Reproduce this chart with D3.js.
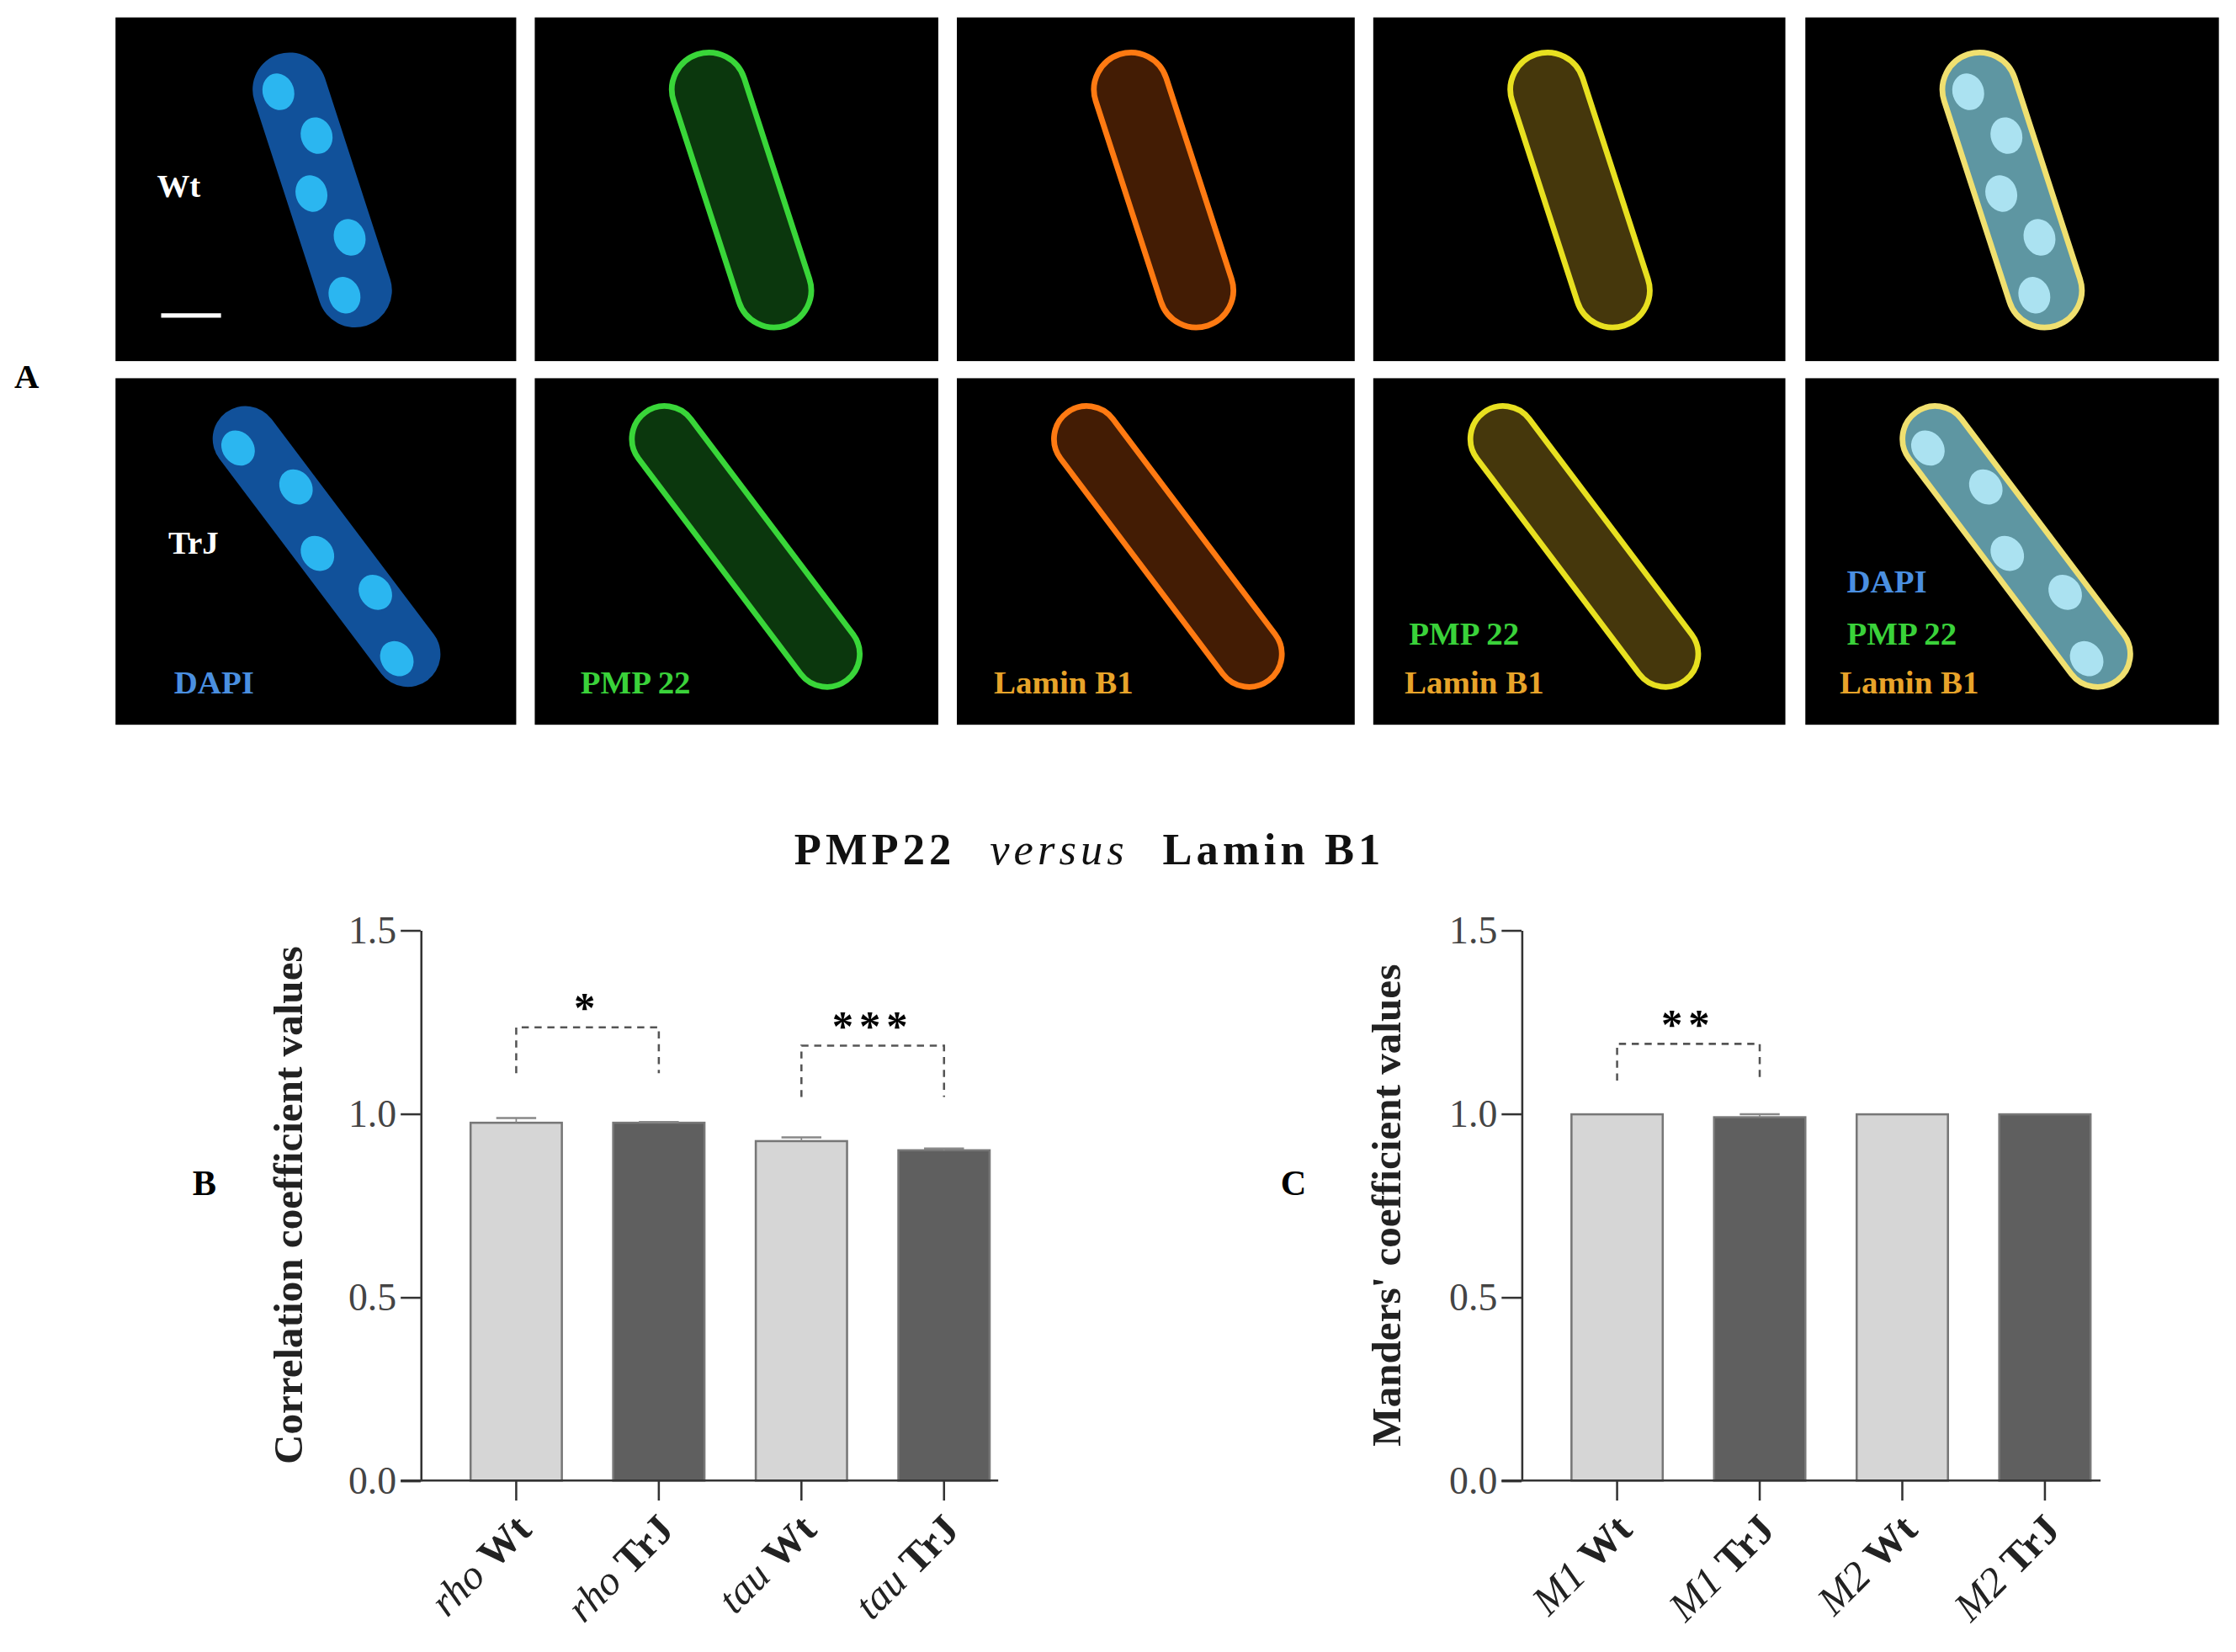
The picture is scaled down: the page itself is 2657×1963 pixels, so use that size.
<!DOCTYPE html>
<html><head><meta charset="utf-8">
<script src="https://cdn.jsdelivr.net/npm/d3@7"></script>
<style>body{margin:0;background:#fff} text{font-family:"Liberation Serif",serif}</style>
</head><body><svg width="2657" height="1963" viewBox="0 0 1568 1158"></svg>
<script>
// chart B
var corrCats = [['rho','Wt'],['rho','TrJ'],['tau','Wt'],['tau','TrJ']];
var corrVals = [0.975, 0.975, 0.925, 0.90];
var corrErr  = [0.013, 0.002, 0.010, 0.005];
// chart C
var mandCats = [['M1','Wt'],['M1','TrJ'],['M2','Wt'],['M2','TrJ']];
var mandVals = [0.998, 0.99, 0.998, 0.998];
var mandErr  = [0.0, 0.008, 0.0, 0.0];
var yTicks = [0, 0.5, 1.0, 1.5];
var fills = ['#d6d6d6','#5f5f5f','#d6d6d6','#5f5f5f'];

var svg = d3.select('svg');

// ---- panel A (micrographs drawn as stylised cells)
var colX = [81, 375, 671, 963, 1266], colW = [281, 283, 279, 289, 290];
var rowY = [12, 265], rowH = [241, 243];
var cellCol = [
  {stroke:'#1e88e8', fill:'#1565c0', spots:'#30c8ff'},
  {stroke:'#39d639', fill:'#0f4a12'},
  {stroke:'#ff7a12', fill:'#5a2505'},
  {stroke:'#e8e020', fill:'#5c4a10'},
  {stroke:'#f0e070', fill:'#7ec8d8'}
];
// cell geometry per row: centre offset in panel, length, width, angle
var cellGeom = [{cx:145, cy:121, len:200, w:52, a:72}, {cx:148, cy:118, len:235, w:46, a:53}];
colX.forEach(function(x0, c) {
  rowY.forEach(function(y0, r) {
    svg.append('rect').attr('x', x0).attr('y', y0).attr('width', colW[c]).attr('height', rowH[r]).attr('fill', '#000');
    var g = cellGeom[r], col = cellCol[c];
    var cg = svg.append('g').attr('transform', 'translate(' + (x0 + g.cx) + ',' + (y0 + g.cy) + ') rotate(' + g.a + ')');
    cg.append('rect').attr('x', -g.len/2).attr('y', -g.w/2).attr('width', g.len).attr('height', g.w)
      .attr('rx', g.w/2).attr('fill', col.fill).attr('fill-opacity', c === 0 ? 0.8 : 0.75)
      .attr('stroke', col.stroke).attr('stroke-width', c === 0 ? 0 : 4);
    if (c === 0 || c === 4) {
      d3.range(5).forEach(function(i) {
        cg.append('ellipse').attr('cx', -g.len/2 + 25 + i * (g.len - 50)/4).attr('cy', (i % 2 ? -8 : 8))
          .attr('rx', 13).attr('ry', 11).attr('fill', c === 0 ? col.spots : '#b8f0ff').attr('opacity', 0.85);
      });
    }
  });
});
svg.append('line').attr('x1', 113).attr('x2', 155).attr('y1', 221).attr('y2', 221).attr('stroke', '#fff').attr('stroke-width', 3);
var imgText = [
  ['Wt', 110, 138, '#fff'], ['TrJ', 118, 388, '#fff'],
  ['DAPI', 122, 486, '#4a8fe0'], ['PMP 22', 407, 486, '#3ad23a'], ['Lamin B1', 697, 486, '#e8a42a'],
  ['PMP 22', 988, 452, '#3ad23a'], ['Lamin B1', 985, 486, '#e8a42a'],
  ['DAPI', 1295, 415, '#4a8fe0'], ['PMP 22', 1295, 452, '#3ad23a'], ['Lamin B1', 1290, 486, '#e8a42a']
];
imgText.forEach(function(t) {
  svg.append('text').attr('x', t[1]).attr('y', t[2]).attr('fill', t[3]).attr('font-size', 23).attr('font-weight', 'bold').text(t[0]);
});
svg.append('text').attr('x', 10).attr('y', 272).attr('font-size', 24).attr('font-weight', 'bold').text('A');

// ---- title
var title = svg.append('text').attr('x', 764).attr('y', 606).attr('text-anchor', 'middle').attr('font-size', 31)
  .attr('letter-spacing', 3).attr('fill', '#111');
title.append('tspan').attr('font-weight', 'bold').text('PMP22');
title.append('tspan').attr('font-style', 'italic').attr('dx', 24).text('versus');
title.append('tspan').attr('font-weight', 'bold').attr('dx', 24).text('Lamin B1');

var y = d3.scaleLinear().domain([0, 1.5]).range([1038, 652]);

function barChart(opt) {
  var x = d3.scaleBand().domain(d3.range(4)).range([opt.x0 + 17, opt.x0 + 417]).paddingInner(0.36).paddingOuter(0.18);
  var g = svg.append('g');
  g.selectAll('rect.bar').data(opt.vals).enter().append('rect')
    .attr('x', function(d, i) { return x(i); }).attr('width', x.bandwidth())
    .attr('y', function(d) { return y(d); }).attr('height', function(d) { return y(0) - y(d); })
    .attr('fill', function(d, i) { return fills[i]; }).attr('stroke', '#777').attr('stroke-width', 1.5);
  opt.vals.forEach(function(v, i) {
    if (!opt.err[i]) return;
    var cx = x(i) + x.bandwidth()/2, yt = y(v + opt.err[i]);
    g.append('line').attr('x1', cx).attr('x2', cx).attr('y1', y(v)).attr('y2', yt).attr('stroke', '#888');
    g.append('line').attr('x1', cx - 14).attr('x2', cx + 14).attr('y1', yt).attr('y2', yt).attr('stroke', '#888').attr('stroke-width', 1.5);
  });
  var ax = g.append('g').attr('transform', 'translate(' + opt.x0 + ',0)')
    .call(d3.axisLeft(y).tickValues(yTicks).tickFormat(d3.format('.1f')).tickSize(14).tickSizeOuter(0));
  ax.select('.domain').attr('stroke', '#333').attr('stroke-width', 1.5);
  ax.selectAll('line').attr('stroke', '#333').attr('stroke-width', 1.5);
  ax.selectAll('text').attr('font-size', 27).attr('fill', '#444').attr('font-family', 'Liberation Serif');
  g.append('line').attr('x1', opt.x0 - 14).attr('x2', opt.x1).attr('y1', y(0)).attr('y2', y(0)).attr('stroke', '#333').attr('stroke-width', 1.5);
  opt.cats.forEach(function(c, i) {
    var cx = x(i) + x.bandwidth()/2;
    g.append('line').attr('x1', cx).attr('x2', cx).attr('y1', y(0)).attr('y2', y(0) + 14).attr('stroke', '#333').attr('stroke-width', 1.5);
    var t = g.append('text').attr('transform', 'translate(' + (cx + 12) + ',' + (y(0) + 36) + ') rotate(-45)')
      .attr('text-anchor', 'end').attr('font-size', 29).attr('fill', '#222');
    t.append('tspan').attr('font-style', 'italic').text(c[0] + ' ');
    t.append('tspan').attr('font-weight', 'bold').text(c[1]);
  });
  g.append('text').attr('transform', 'translate(' + opt.ylx + ',' + y(0.75) + ') rotate(-90)')
    .attr('text-anchor', 'middle').attr('font-size', 29).attr('font-weight', 'bold').attr('fill', '#222').text(opt.ylabel);
  g.append('text').attr('x', opt.lx).attr('y', 838).attr('font-size', 25).attr('font-weight', 'bold').text(opt.letter);
  opt.sig.forEach(function(s) {
    var a = x(s.a) + x.bandwidth()/2, b = x(s.b) + x.bandwidth()/2;
    g.append('path').attr('d', 'M' + a + ',' + y(s.ya) + 'V' + y(s.top) + 'H' + b + 'V' + y(s.yb))
      .attr('fill', 'none').attr('stroke', '#555').attr('stroke-width', 1.5).attr('stroke-dasharray', '5,4');
    g.append('text').attr('x', (a + b)/2).attr('y', y(s.top) - 4).attr('text-anchor', 'middle')
      .attr('font-size', 30).attr('font-weight', 'bold').attr('letter-spacing', 4).text(s.label);
  });
}

barChart({x0: 295, x1: 700, vals: corrVals, err: corrErr, cats: corrCats, ylx: 212, lx: 135, letter: 'B',
  ylabel: 'Correlation coefficient values',
  sig: [{a:0, b:1, top:1.235, ya:1.11, yb:1.11, label:'*'}, {a:2, b:3, top:1.185, ya:1.045, yb:1.045, label:'***'}]});
barChart({x0: 1067, x1: 1473, vals: mandVals, err: mandErr, cats: mandCats, ylx: 982, lx: 898, letter: 'C',
  ylabel: "Manders' coefficient values",
  sig: [{a:0, b:1, top:1.19, ya:1.09, yb:1.09, label:'**'}]});
</script></body></html>
